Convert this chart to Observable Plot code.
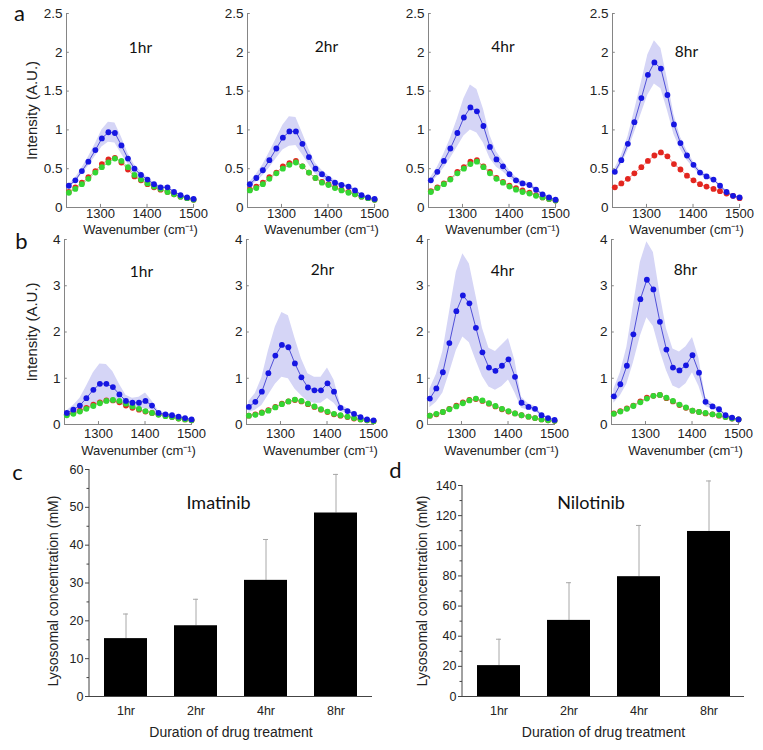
<!DOCTYPE html>
<html><head><meta charset="utf-8">
<script src="https://cdn.jsdelivr.net/npm/d3@7"></script>
<script src="https://cdn.jsdelivr.net/npm/@observablehq/plot@0.6"></script>
<style>
body{margin:0;background:#fff;}
#fig{position:relative;width:763px;height:750px;overflow:hidden;background:#fff;}
.panel{position:absolute;}
</style></head><body><div id="fig"></div>
<script>
// ---------- shared axes data ----------
const wavenumber = [1232,1246,1260,1274,1289,1303,1317,1331,1345,1359,1373,1387,1401,1415,1429,1444,1458,1472,1486,1500];
const timepoints = ["1hr","2hr","4hr","8hr"];
const wnTicks = [1300,1400,1500];
const rowATicks = [0,0.5,1,1.5,2,2.5];
const rowBTicks = [0,1,2,3,4];

// ---------- row a spectra ----------
const a1Blue  = [0.28,0.35,0.47,0.59,0.74,0.89,0.97,0.96,0.80,0.63,0.50,0.42,0.36,0.30,0.26,0.26,0.20,0.16,0.13,0.11];
const a1Err   = [0.02,0.03,0.04,0.06,0.08,0.11,0.13,0.13,0.11,0.07,0.05,0.04,0.03,0.02,0.02,0.02,0.01,0.01,0.01,0.01];
const a1Red   = [0.20,0.26,0.32,0.39,0.47,0.56,0.62,0.64,0.58,0.49,0.40,0.35,0.30,0.26,0.23,0.20,0.17,0.14,0.12,0.10];
const a1Green = [0.19,0.24,0.30,0.37,0.45,0.52,0.58,0.63,0.60,0.52,0.42,0.36,0.31,0.27,0.24,0.20,0.17,0.14,0.12,0.10];

const a2Blue  = [0.30,0.38,0.48,0.61,0.76,0.90,0.98,0.98,0.82,0.65,0.50,0.43,0.37,0.32,0.29,0.27,0.22,0.16,0.13,0.11];
const a2Err   = [0.03,0.05,0.07,0.10,0.13,0.16,0.19,0.18,0.14,0.10,0.07,0.05,0.04,0.03,0.02,0.02,0.02,0.01,0.01,0.01];
const a2Red   = [0.23,0.27,0.32,0.39,0.45,0.53,0.57,0.60,0.53,0.45,0.38,0.33,0.30,0.26,0.23,0.20,0.17,0.14,0.12,0.10];
const a2Green = [0.22,0.25,0.30,0.37,0.44,0.50,0.55,0.58,0.53,0.45,0.38,0.32,0.29,0.25,0.22,0.19,0.17,0.14,0.12,0.10];

const a3Blue  = [0.35,0.46,0.60,0.76,0.96,1.16,1.29,1.24,1.05,0.78,0.62,0.53,0.43,0.35,0.31,0.29,0.23,0.17,0.13,0.10];
const a3Err   = [0.04,0.06,0.09,0.13,0.18,0.24,0.29,0.28,0.22,0.15,0.10,0.07,0.05,0.04,0.03,0.03,0.02,0.02,0.01,0.01];
const a3Red   = [0.21,0.26,0.31,0.37,0.46,0.52,0.59,0.61,0.53,0.46,0.38,0.33,0.28,0.25,0.22,0.19,0.16,0.13,0.11,0.09];
const a3Green = [0.20,0.25,0.30,0.36,0.44,0.50,0.56,0.59,0.52,0.44,0.37,0.32,0.27,0.23,0.20,0.18,0.15,0.13,0.11,0.09];

const a4Blue  = [0.46,0.61,0.82,1.10,1.41,1.71,1.87,1.79,1.45,1.07,0.83,0.67,0.55,0.45,0.40,0.36,0.28,0.20,0.15,0.13];
const a4Err   = [0.04,0.06,0.09,0.14,0.20,0.26,0.28,0.26,0.20,0.13,0.08,0.06,0.04,0.03,0.03,0.02,0.02,0.02,0.01,0.01];
const a4Red   = [0.26,0.31,0.37,0.44,0.52,0.60,0.67,0.71,0.66,0.56,0.49,0.41,0.35,0.30,0.27,0.24,0.21,0.18,0.15,0.12];

// ---------- row b spectra ----------
const b1Blue  = [0.25,0.32,0.41,0.57,0.75,0.88,0.88,0.81,0.65,0.51,0.47,0.47,0.51,0.41,0.25,0.22,0.20,0.17,0.14,0.11];
const b1Err   = [0.05,0.09,0.15,0.25,0.37,0.43,0.42,0.33,0.22,0.12,0.10,0.12,0.17,0.10,0.04,0.03,0.02,0.02,0.01,0.01];
const b1Red   = [0.22,0.25,0.30,0.36,0.43,0.48,0.52,0.52,0.48,0.41,0.36,0.32,0.28,0.25,0.22,0.19,0.16,0.13,0.11,0.09];
const b1Green = [0.20,0.23,0.28,0.34,0.40,0.46,0.51,0.53,0.51,0.45,0.39,0.34,0.29,0.25,0.21,0.18,0.16,0.13,0.11,0.09];

const b2Blue  = [0.38,0.49,0.71,1.11,1.49,1.72,1.67,1.32,1.02,0.80,0.74,0.74,0.89,0.71,0.36,0.29,0.23,0.16,0.11,0.09];
const b2Err   = [0.12,0.18,0.30,0.48,0.62,0.70,0.68,0.55,0.40,0.30,0.28,0.28,0.33,0.25,0.08,0.05,0.03,0.02,0.01,0.01];
const b2Red   = [0.19,0.22,0.26,0.31,0.38,0.45,0.50,0.53,0.50,0.44,0.38,0.32,0.27,0.22,0.19,0.16,0.13,0.11,0.09,0.07];
const b2Green = [0.19,0.21,0.25,0.30,0.37,0.44,0.50,0.54,0.51,0.45,0.39,0.33,0.28,0.23,0.20,0.17,0.14,0.11,0.09,0.07];

const b3Blue  = [0.56,0.78,1.13,1.76,2.45,2.79,2.62,2.09,1.56,1.23,1.16,1.27,1.41,1.03,0.47,0.38,0.34,0.20,0.14,0.10];
const b3Err   = [0.20,0.30,0.45,0.65,0.85,0.90,0.85,0.70,0.52,0.42,0.42,0.45,0.45,0.35,0.12,0.07,0.05,0.03,0.02,0.01];
const b3Red   = [0.19,0.22,0.27,0.34,0.41,0.48,0.53,0.55,0.51,0.45,0.39,0.33,0.28,0.24,0.20,0.17,0.14,0.11,0.09,0.08];
const b3Green = [0.19,0.23,0.27,0.33,0.39,0.46,0.52,0.56,0.52,0.46,0.40,0.34,0.29,0.24,0.20,0.17,0.14,0.11,0.09,0.08];

const b4Blue  = [0.61,0.87,1.27,1.95,2.71,3.13,2.92,2.22,1.62,1.23,1.17,1.28,1.50,1.12,0.49,0.39,0.33,0.20,0.15,0.11];
const b4Err   = [0.15,0.25,0.40,0.62,0.80,0.82,0.80,0.62,0.45,0.40,0.40,0.40,0.38,0.30,0.10,0.06,0.04,0.03,0.02,0.01];
const b4Red   = [0.24,0.29,0.35,0.41,0.50,0.58,0.62,0.64,0.57,0.50,0.42,0.36,0.30,0.27,0.24,0.22,0.19,0.16,0.13,0.11];
const b4Green = [0.23,0.28,0.34,0.40,0.48,0.56,0.62,0.64,0.58,0.51,0.43,0.37,0.30,0.27,0.25,0.22,0.20,0.16,0.13,0.11];

// ---------- bar charts ----------
const imatinibMean = [15.3, 18.7, 30.7, 48.5];
const imatinibSD   = [6.5, 7.0, 10.8, 10.2];
const nilotinibMean = [20.5, 50.5, 79.5, 109.5];
const nilotinibSD   = [17.5, 25.0, 34.0, 33.5];
const imatinibTicks = [0,10,20,30,40,50,60];
const imatinibMinor = [5,15,25,35,45,55];
const nilotinibTicks = [0,20,40,60,80,100,120,140];
const nilotinibMinor = [10,30,50,70,90,110,130];

// ---------- drawing ----------
const fig = document.getElementById("fig");
const SANS = "'Liberation Sans', Arial, sans-serif";
const CAL = "Lato, 'Open Sans', sans-serif";
const axisGray = "#858585";
const xDomain = [1227, 1502];

function place(node, left, top) {
  const d = document.createElement("div");
  d.className = "panel";
  d.style.left = left + "px";
  d.style.top = top + "px";
  d.appendChild(node);
  fig.appendChild(d);
}

function spectrum(p, cfg) {
  const rows = wavenumber.map((w, i) => ({
    w, b: p.blue[i], lo: p.blue[i] - p.err[i], hi: p.blue[i] + p.err[i],
    r: p.red[i], g: p.green ? p.green[i] : null
  }));
  const first = p.col === 0;
  const mL = first ? cfg.axisX[0] : 40;
  const mR = 14;
  const marks = [
    Plot.areaY(rows, {x: "w", y1: "lo", y2: "hi", fill: "#d5d5f6"}),
    Plot.ruleY([0], {stroke: axisGray}),
    Plot.ruleX([xDomain[0]], {y1: 0, y2: cfg.yMax, stroke: axisGray}),
    Plot.ruleX(wnTicks, {y1: 0, y2: cfg.yMax * 0.016, stroke: axisGray}),
    Plot.ruleY(cfg.yTicks, {x1: xDomain[0], x2: xDomain[0] + 6, stroke: axisGray}),
    Plot.lineY(rows, {x: "w", y: "r", stroke: "#ee7777", strokeWidth: 0.8}),
    Plot.dot(rows, {x: "w", y: "r", r: 2.9, fill: "#e3261f"})
  ];
  if (p.green) {
    marks.push(Plot.lineY(rows, {x: "w", y: "g", stroke: "#77dd77", strokeWidth: 0.8}));
    marks.push(Plot.dot(rows, {x: "w", y: "g", r: 2.9, fill: "#33d633"}));
  }
  marks.push(
    Plot.lineY(rows, {x: "w", y: "b", stroke: "#5050d8", strokeWidth: 1}),
    Plot.dot(rows, {x: "w", y: "b", r: 2.9, fill: "#1616e2"}),
    Plot.axisX({ticks: wnTicks, tickFormat: d => String(d), tickSize: 0, tickPadding: cfg.xPad, label: null, fill: "#222", fontSize: 13}),
    Plot.axisY({ticks: cfg.yTicks, tickFormat: d => String(d), tickSize: 0, tickPadding: 4, label: null, fill: "#222"}),
    Plot.text([p.time], {text: d => d, frameAnchor: "top-left", textAnchor: "middle", lineAnchor: "middle",
      dx: cfg.titleDx[p.col], dy: cfg.titleDy[p.col], fontSize: 15.5, fontFamily: CAL, fill: "#111"}),
    Plot.text(["Wavenumber (cm⁻¹)"], {text: d => d, frameAnchor: "bottom", textAnchor: "middle", lineAnchor: "middle",
      dx: 10, dy: cfg.xLabelDy, fontSize: 13, fill: "#222"})
  );
  if (first) {
    marks.push(
      Plot.text(["Intensity (A.U.)"], {text: d => d, frameAnchor: "left", rotate: -90, textAnchor: "middle", lineAnchor: "middle",
        dx: cfg.yLabelDx, fontSize: 15, fill: "#222"}),
      Plot.text([cfg.letter], {text: d => d, frameAnchor: "top-left", textAnchor: "middle", lineAnchor: "middle",
        dx: cfg.letterDx, dy: cfg.letterDy, fontSize: 22, fontFamily: CAL, fill: "#111"})
    );
  }
  const svg = Plot.plot({
    width: mL + 128 + mR,
    height: cfg.mT + cfg.H + cfg.mB,
    marginLeft: mL, marginRight: mR, marginTop: cfg.mT, marginBottom: cfg.mB,
    x: {domain: xDomain, label: null},
    y: {domain: [0, cfg.yMax], label: null},
    style: {fontFamily: SANS, fontSize: "13.5px", background: "transparent", overflow: "visible", color: "#222"},
    marks
  });
  place(svg, cfg.axisX[p.col] - mL, cfg.top - cfg.mT);
}

const rowA = {axisX: [66, 247, 428, 612], top: 13, H: 194, mT: 13, mB: 30, yMax: 2.5, yTicks: rowATicks,
  xPad: 1.5, xLabelDy: 22, titleDx: [74, 79, 74.5, 74], titleDy: [35, 34, 34, 39],
  yLabelDx: -34, letter: "a", letterDx: -47, letterDy: 0};
const rowB = {axisX: [64, 246, 427, 611], top: 239, H: 185, mT: 12, mB: 34, yMax: 4, yTicks: rowBTicks,
  xPad: 4, xLabelDy: 26, titleDx: [77, 76, 75, 74], titleDy: [33, 31, 32, 31],
  yLabelDx: -32, letter: "b", letterDx: -43, letterDy: 2};

[
  {col: 0, time: timepoints[0], blue: a1Blue, err: a1Err, red: a1Red, green: a1Green},
  {col: 1, time: timepoints[1], blue: a2Blue, err: a2Err, red: a2Red, green: a2Green},
  {col: 2, time: timepoints[2], blue: a3Blue, err: a3Err, red: a3Red, green: a3Green},
  {col: 3, time: timepoints[3], blue: a4Blue, err: a4Err, red: a4Red, green: null}
].forEach(p => spectrum(p, rowA));
[
  {col: 0, time: timepoints[0], blue: b1Blue, err: b1Err, red: b1Red, green: b1Green},
  {col: 1, time: timepoints[1], blue: b2Blue, err: b2Err, red: b2Red, green: b2Green},
  {col: 2, time: timepoints[2], blue: b3Blue, err: b3Err, red: b3Red, green: b3Green},
  {col: 3, time: timepoints[3], blue: b4Blue, err: b4Err, red: b4Red, green: b4Green}
].forEach(p => spectrum(p, rowB));

function leftLine(color) {
  return (index, scales, values, dims) => {
    const l = document.createElementNS("http://www.w3.org/2000/svg", "line");
    l.setAttribute("x1", dims.marginLeft); l.setAttribute("x2", dims.marginLeft);
    l.setAttribute("y1", dims.marginTop); l.setAttribute("y2", dims.height - dims.marginBottom);
    l.setAttribute("stroke", color);
    return l;
  };
}

function barChart(mean, sd, cfg) {
  const rows = timepoints.map((t, i) => ({t, v: mean[i], top: mean[i] + sd[i]}));
  const svg = Plot.plot({
    width: cfg.mL + cfg.W + cfg.mR,
    height: cfg.mT + cfg.H + cfg.mB,
    marginLeft: cfg.mL, marginRight: cfg.mR, marginTop: cfg.mT, marginBottom: cfg.mB,
    x: {domain: timepoints, paddingInner: 0.39, paddingOuter: 0.2, label: null},
    y: {domain: [0, cfg.yMax], label: null},
    style: {fontFamily: SANS, fontSize: "12.5px", background: "transparent", overflow: "visible", color: "#222"},
    marks: [
      Plot.ruleX(rows, {x: "t", y1: "v", y2: "top", stroke: "#a8a8a8"}),
      Plot.tickY(rows, {x: "t", y: "top", stroke: "#a8a8a8", insetLeft: 19, insetRight: 19}),
      Plot.barY(rows, {x: "t", y: "v", fill: "#000"}),
      Plot.ruleY([0], {stroke: "#444"}),
      leftLine("#444"),
      Plot.axisY({ticks: cfg.ticks, tickFormat: d => String(d), tickSize: 4, tickPadding: 2, label: null, stroke: "#444", fill: "#222"}),
      Plot.axisY({ticks: cfg.minor, tickSize: 2.5, text: null, label: null, stroke: "#444"}),
      Plot.axisX({tickSize: 0, tickPadding: 10, label: null, fill: "#222"}),
      Plot.text([cfg.title], {text: d => d, frameAnchor: "top", textAnchor: "middle", lineAnchor: "middle",
        dx: cfg.titleDx, dy: cfg.titleDy, fontSize: 18, fontFamily: CAL, fill: "#111"}),
      Plot.text(["Lysosomal concentration (mM)"], {text: d => d, frameAnchor: "left", rotate: -90, textAnchor: "middle", lineAnchor: "middle",
        dx: cfg.yLabelDx, dy: cfg.yLabelDy, fontSize: 14, fill: "#222"}),
      Plot.text(["Duration of drug treatment"], {text: d => d, frameAnchor: "bottom", textAnchor: "middle", lineAnchor: "middle",
        dy: 36, fontSize: 14, fill: "#222"}),
      Plot.text([cfg.letter], {text: d => d, frameAnchor: "top-left", textAnchor: "middle", lineAnchor: "middle",
        dx: cfg.letterDx, dy: cfg.letterDy, fontSize: 22, fontFamily: CAL, fill: "#111"})
    ]
  });
  place(svg, cfg.left, cfg.top);
}

barChart(imatinibMean, imatinibSD, {left: 0, top: 449, mL: 89, W: 283, mR: 8, mT: 20, H: 227, mB: 54,
  yMax: 60, ticks: imatinibTicks, minor: imatinibMinor, title: "Imatinib", titleDx: -12.5, titleDy: 34,
  yLabelDx: -36, yLabelDy: 8, letter: "c", letterDx: -72, letterDy: 3});
barChart(nilotinibMean, nilotinibSD, {left: 380, top: 455, mL: 82, W: 282, mR: 8, mT: 30, H: 211, mB: 54,
  yMax: 140, ticks: nilotinibTicks, minor: nilotinibMinor, title: "Nilotinib", titleDx: -12.5, titleDy: 18,
  yLabelDx: -40, yLabelDy: 0, letter: "d", letterDx: -67, letterDy: -15});
</script>
</body></html>
